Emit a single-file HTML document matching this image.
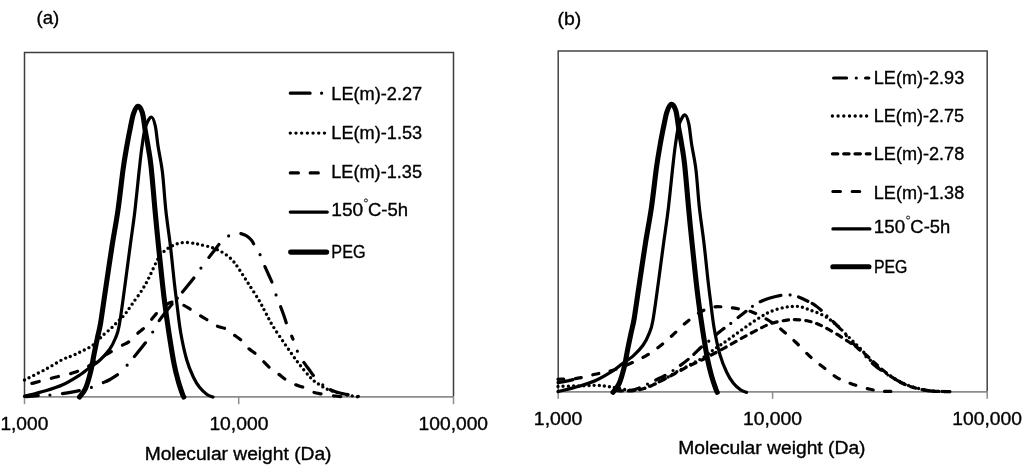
<!DOCTYPE html>
<html><head><meta charset="utf-8"><title>Molecular weight distributions</title>
<style>
html,body{margin:0;padding:0;background:#fff;}
body{width:1024px;height:468px;position:relative;overflow:hidden;font-family:"Liberation Sans",sans-serif;}
</style></head><body>
<svg width="1024" height="468" viewBox="0 0 1024 468" style="position:absolute;left:0;top:0"><line x1="24.5" y1="396.9" x2="453.5" y2="396.9" stroke="#8c8c8c" stroke-width="1.6"/>
<line x1="24.5" y1="396.9" x2="24.5" y2="404.2" stroke="#8c8c8c" stroke-width="1.5"/>
<line x1="238.7" y1="396.9" x2="238.7" y2="404.2" stroke="#8c8c8c" stroke-width="1.5"/>
<line x1="453.5" y1="396.9" x2="453.5" y2="404.2" stroke="#8c8c8c" stroke-width="1.5"/>
<path d="M24.5,396.5 V52.5 H453.5 V396.5" fill="none" stroke="#3c3c3c" stroke-width="1.5"/>
<path id="dot153" d="M24.5,380.0 C28.0,378.2 39.3,372.7 45.6,369.3 C51.9,365.9 57.8,361.9 62.3,359.6 C66.8,357.4 69.2,357.1 72.3,355.8 C75.4,354.5 78.1,353.1 80.9,351.7 C83.8,350.3 87.2,348.6 89.4,347.4 C91.6,346.2 92.4,345.7 94.0,344.4 C95.6,343.1 97.3,341.0 98.8,339.5 C100.3,338.0 101.0,337.1 102.9,335.3 C104.9,333.5 108.0,331.1 110.5,328.8 C113.0,326.6 115.2,324.2 117.6,321.8 C119.9,319.4 122.2,317.6 124.6,314.7 C127.0,311.8 129.0,308.6 132.0,304.3 C135.0,300.0 139.7,293.8 142.7,289.0 C145.7,284.2 147.7,280.1 150.0,275.5 C152.3,270.9 154.8,264.9 156.6,261.4 C158.4,257.9 159.4,256.5 161.0,254.5 C162.6,252.5 164.4,251.0 166.2,249.6 C168.0,248.2 169.9,247.1 172.0,246.0 C174.1,244.9 176.5,243.8 179.0,243.2 C181.5,242.6 184.3,242.4 187.0,242.5 C189.7,242.6 192.8,243.2 195.0,243.5 C197.2,243.8 197.6,244.0 200.0,244.6 C202.4,245.2 206.3,245.9 209.4,246.8 C212.5,247.7 215.5,248.8 218.4,250.2 C221.3,251.6 224.4,253.5 226.9,255.3 C229.4,257.2 231.5,259.3 233.3,261.3 C235.2,263.3 235.5,263.8 238.0,267.5 C240.5,271.2 244.8,278.1 248.3,283.5 C251.8,288.9 256.0,295.3 258.8,300.0 C261.6,304.7 262.7,307.2 265.0,311.5 C267.3,315.8 269.2,320.0 272.6,325.6 C276.0,331.2 281.2,338.7 285.5,344.9 C289.8,351.1 294.0,357.4 298.3,363.0 C302.6,368.6 307.8,374.8 311.4,378.5 C315.0,382.2 317.1,383.1 320.0,385.0 C322.9,386.9 324.3,388.1 328.5,389.7 C332.7,391.3 339.9,393.3 345.0,394.5 C350.1,395.7 356.7,396.6 359.0,397.0" fill="none" stroke="#000" stroke-width="3.4" stroke-linejoin="round" stroke-linecap="round" stroke-dasharray="0 5.15"/>
<path id="d135" d="M24.5,385.0 C26.2,384.6 29.9,383.9 35.0,382.6 C40.1,381.3 48.5,379.0 55.0,377.3 C61.5,375.6 68.5,374.4 74.0,372.6 C79.5,370.8 83.7,368.9 88.0,366.5 C92.3,364.1 96.7,360.2 100.0,358.0 C103.3,355.8 104.5,355.5 108.0,353.5 C111.5,351.5 117.5,348.0 121.0,346.0 C124.5,344.0 126.3,343.7 129.0,341.7 C131.7,339.7 134.5,336.3 137.0,334.0 C139.5,331.7 141.7,330.3 144.0,328.0 C146.3,325.7 148.8,322.5 151.0,320.0 C153.2,317.5 155.0,315.0 157.0,312.8 C159.0,310.6 160.5,308.8 163.0,307.0 C165.5,305.2 168.8,302.4 172.0,302.0 C175.2,301.6 178.8,303.2 182.0,304.5 C185.2,305.8 188.0,307.8 191.0,309.6 C194.0,311.4 197.2,313.7 200.0,315.5 C202.8,317.3 205.3,318.6 208.0,320.3 C210.7,322.0 213.1,324.2 216.0,325.6 C218.9,327.0 222.8,327.4 225.6,328.8 C228.4,330.2 230.3,332.2 233.0,334.2 C235.7,336.2 239.2,338.3 241.7,340.6 C244.2,342.9 245.5,345.7 248.0,348.0 C250.5,350.3 254.1,352.3 256.6,354.5 C259.1,356.7 260.7,358.7 263.0,361.0 C265.3,363.3 268.0,366.3 270.5,368.4 C273.0,370.5 275.3,371.8 278.0,373.7 C280.7,375.6 283.7,378.3 286.5,380.1 C289.3,381.9 292.1,383.2 295.0,384.5 C297.9,385.8 301.1,386.4 304.0,387.6 C306.9,388.8 309.4,390.8 312.4,391.9 C315.4,393.0 318.2,393.3 322.0,394.0 C325.8,394.7 331.2,395.5 335.0,396.0 C338.8,396.5 343.3,396.8 345.0,397.0" fill="none" stroke="#000" stroke-width="3.2" stroke-linejoin="round" stroke-linecap="round" stroke-dasharray="7.30 12.47 7.30 12.48 7.30 12.47 7.30 12.47 7.30 12.47 7.30 12.47 7.30 12.47 7.30 12.47 7.30 12.47 7.30 12.47 7.30 12.47 7.30 12.47 7.30 12.48 7.30 12.48 7.30 12.48 7.30 12.48 7.30 12.48 7.30 12.48 7.30 32.42" stroke-dashoffset="-7.85"/>
<path id="dd227" d="M24.5,396.8 C27.0,396.6 35.5,395.9 39.7,395.6 C43.9,395.3 46.4,395.3 49.9,395.0 C53.4,394.7 55.9,394.6 61.0,393.8 C66.1,393.0 75.6,391.4 80.7,390.3 C85.8,389.2 87.9,388.6 91.4,387.4 C94.9,386.2 98.7,384.5 101.8,383.2 C104.9,381.9 107.2,381.1 110.0,379.5 C112.8,377.9 115.9,376.2 118.7,373.8 C121.5,371.4 124.6,367.9 127.1,365.2 C129.6,362.5 130.3,361.6 133.5,357.7 C136.7,353.8 143.1,346.0 146.3,341.7 C149.5,337.4 150.8,335.2 152.7,332.0 C154.6,328.8 155.9,325.6 158.0,322.4 C160.1,319.2 162.7,316.0 165.0,313.0 C167.3,310.0 170.0,306.7 172.0,304.3 C174.0,301.9 175.3,300.4 177.0,298.5 C178.7,296.6 179.0,296.2 182.0,292.6 C185.0,289.0 191.8,280.7 194.9,276.6 C198.1,272.5 198.8,271.0 200.9,268.1 C203.0,265.2 205.5,261.9 207.7,259.0 C209.9,256.1 211.9,253.7 214.0,251.0 C216.1,248.3 217.9,245.5 220.3,243.0 C222.7,240.5 226.3,237.5 228.6,236.0 C230.9,234.5 232.2,234.2 234.0,233.8 C235.8,233.4 237.5,233.0 239.5,233.3 C241.5,233.6 244.2,234.6 246.2,235.7 C248.2,236.8 249.9,238.4 251.3,240.0 C252.7,241.6 253.1,242.9 254.5,245.3 C255.9,247.7 258.4,251.2 260.0,254.5 C261.6,257.8 262.8,261.6 264.2,264.9 C265.6,268.2 267.1,271.3 268.5,274.5 C269.9,277.7 271.4,280.7 272.7,284.1 C273.9,287.5 274.8,291.2 276.0,294.8 C277.2,298.4 278.9,302.2 280.2,305.5 C281.4,308.8 282.4,311.5 283.5,314.5 C284.6,317.5 285.3,320.2 286.5,323.5 C287.7,326.8 289.6,331.2 290.8,334.2 C292.1,337.2 292.9,338.9 294.0,341.7 C295.1,344.5 295.8,347.8 297.3,351.0 C298.8,354.2 300.9,357.9 302.8,360.9 C304.7,363.9 306.7,366.3 308.7,369.0 C310.7,371.7 312.4,374.4 314.6,376.9 C316.8,379.4 319.5,382.1 322.0,384.2 C324.5,386.3 327.0,388.0 329.5,389.3 C332.0,390.6 334.3,391.4 337.0,392.2 C339.7,393.0 341.8,393.5 345.6,394.2 C349.4,394.9 357.6,396.1 360.0,396.5" fill="none" stroke="#000" stroke-width="3.2" stroke-linejoin="round" stroke-linecap="round" stroke-dasharray="12.05 11.82 0.00 12.77 16.81 12.69 0.00 12.82 16.22 13.63 0.00 11.46 17.29 13.23 0.00 13.14 20.67 8.08 0.00 8.29 17.63 12.40 0.00 13.23 16.38 12.99 0.00 12.89 16.80 12.53 0.00 12.82 16.99 13.61 0.00 12.56 17.21 14.17 3.43 12.76 0.00 12.93 16.19 13.23 0.00 9.11 18.54 10.11 0.00 23.68" stroke-dashoffset="-1.60"/>
<path d="M24.5,396.3 C28.0,395.4 39.2,392.7 45.6,390.8 C52.0,388.9 57.0,387.4 62.7,384.8 C68.4,382.2 75.5,377.7 79.8,375.0 C84.1,372.3 85.0,371.0 88.4,368.5 C91.8,366.0 96.5,363.2 100.0,360.0 C103.5,356.8 106.9,353.2 109.5,349.5 C112.1,345.8 113.9,342.1 115.5,338.0 C117.1,333.9 117.7,333.8 119.3,325.0 C120.9,316.2 123.2,298.3 125.0,285.0 C126.8,271.7 128.6,257.5 130.3,245.0 C132.0,232.5 133.6,222.2 135.0,210.0 C136.4,197.8 137.8,182.6 139.0,172.0 C140.2,161.4 140.9,154.0 142.0,146.5 C143.1,139.0 143.9,131.9 145.5,127.0 C147.1,122.1 149.7,117.2 151.3,117.0 C152.9,116.8 154.2,121.1 155.3,126.0 C156.4,130.9 156.9,138.8 158.1,146.5 C159.3,154.2 161.1,161.4 162.4,172.0 C163.7,182.6 164.5,197.8 165.8,210.0 C167.1,222.2 168.8,232.5 170.3,245.0 C171.8,257.5 173.5,275.3 174.6,285.0 C175.7,294.7 175.8,295.2 176.8,303.0 C177.8,310.8 179.0,322.6 180.6,332.0 C182.2,341.4 184.5,352.0 186.6,359.5 C188.7,367.0 191.1,372.3 193.3,377.0 C195.5,381.7 197.4,384.7 199.7,387.6 C202.0,390.5 204.8,392.9 207.0,394.5 C209.2,396.1 212.0,396.6 213.0,397.0" fill="none" stroke="#000" stroke-width="3.2" stroke-linejoin="round" stroke-linecap="round"/>
<path d="M79.5,397.0 C80.5,395.6 83.6,392.8 85.5,388.5 C87.4,384.2 89.3,377.2 90.7,371.5 C92.1,365.8 92.9,360.2 94.0,354.5 C95.1,348.8 96.4,342.9 97.5,337.5 C98.6,332.1 99.3,330.8 100.8,322.0 C102.2,313.2 104.3,297.8 106.2,285.0 C108.1,272.2 110.2,257.5 112.2,245.0 C114.2,232.5 116.2,222.5 118.0,210.0 C119.8,197.5 121.6,180.3 123.0,170.0 C124.4,159.7 125.3,154.8 126.5,148.0 C127.7,141.2 128.8,135.2 130.0,129.5 C131.2,123.8 132.1,117.9 133.4,114.0 C134.7,110.1 136.4,106.5 137.9,106.2 C139.4,106.0 141.1,108.7 142.3,112.5 C143.5,116.3 144.1,123.4 145.0,129.0 C145.9,134.6 147.0,139.8 148.0,146.0 C149.0,152.2 149.8,155.3 151.0,166.0 C152.2,176.7 153.8,196.8 155.0,210.0 C156.2,223.2 157.1,232.5 158.4,245.0 C159.7,257.5 161.5,275.0 162.6,285.0 C163.7,295.0 164.0,297.2 165.0,305.0 C166.0,312.8 167.3,322.2 168.8,332.0 C170.3,341.8 172.5,355.8 174.1,364.0 C175.7,372.2 176.8,375.9 178.2,381.0 C179.6,386.1 181.7,391.8 182.6,394.5 C183.5,397.2 183.6,396.6 183.8,397.0" fill="none" stroke="#000" stroke-width="5.1" stroke-linejoin="round" stroke-linecap="round"/>
<line x1="558" y1="391.9" x2="987.2" y2="391.9" stroke="#8c8c8c" stroke-width="1.6"/>
<line x1="558.2" y1="391.9" x2="558.2" y2="398.8" stroke="#8c8c8c" stroke-width="1.5"/>
<line x1="772.6" y1="391.9" x2="772.6" y2="398.8" stroke="#8c8c8c" stroke-width="1.5"/>
<line x1="987.2" y1="391.9" x2="987.2" y2="398.8" stroke="#8c8c8c" stroke-width="1.5"/>
<path d="M558.2,391.5 V51 H987.2 V391.5" fill="none" stroke="#444" stroke-width="1.5"/>
<path id="dot275" d="M558.0,386.4 C560.8,386.3 569.7,386.1 575.0,386.0 C580.3,385.9 586.2,385.6 590.0,385.5 C593.8,385.4 595.4,385.2 597.6,385.3 C599.8,385.4 601.4,385.6 603.2,385.8 C605.0,386.0 606.8,386.4 608.5,386.6 C610.2,386.9 611.2,386.9 613.7,387.3 C616.2,387.8 620.7,388.8 623.7,389.3 C626.8,389.8 629.3,390.3 632.0,390.4 C634.7,390.4 637.3,390.2 640.0,389.6 C642.7,389.0 644.2,388.4 648.0,386.8 C651.8,385.2 658.5,382.3 663.0,380.0 C667.5,377.7 670.5,375.3 675.0,372.8 C679.5,370.3 685.3,367.4 690.0,364.8 C694.7,362.2 699.3,360.1 703.3,357.5 C707.3,354.9 710.5,351.8 713.8,349.5 C717.0,347.2 720.0,345.4 722.8,343.5 C725.6,341.6 728.2,339.7 730.8,337.8 C733.4,335.9 735.9,334.1 738.5,332.2 C741.1,330.3 743.8,328.4 746.3,326.6 C748.8,324.8 751.2,323.1 753.8,321.4 C756.4,319.7 759.4,317.7 761.8,316.2 C764.2,314.7 765.9,313.8 768.4,312.6 C770.9,311.5 774.1,310.2 777.0,309.3 C779.9,308.4 782.8,307.7 785.5,307.2 C788.2,306.7 790.6,306.5 793.0,306.4 C795.4,306.3 797.6,306.2 800.0,306.6 C802.4,307.0 804.6,308.1 807.1,309.0 C809.6,309.9 812.1,310.7 815.0,311.8 C817.9,312.9 821.5,314.4 824.2,315.9 C826.9,317.3 828.7,318.8 831.0,320.5 C833.3,322.2 834.8,323.3 837.9,326.2 C841.0,329.1 845.8,334.1 849.8,338.1 C853.8,342.1 858.1,346.1 861.8,350.1 C865.5,354.1 868.6,358.6 872.0,362.0 C875.4,365.4 878.7,367.9 882.0,370.3 C885.3,372.7 888.4,374.6 891.6,376.6 C894.8,378.6 897.8,380.6 901.0,382.2 C904.2,383.8 906.7,385.0 911.0,386.4 C915.3,387.8 922.2,389.5 926.7,390.3 C931.2,391.1 934.1,391.1 938.0,391.3 C941.9,391.5 948.0,391.6 950.0,391.6" fill="none" stroke="#000" stroke-width="3.4" stroke-linejoin="round" stroke-linecap="round" stroke-dasharray="0 5.15"/>
<path id="sd278" d="M617.0,390.6 C618.5,390.7 622.8,391.1 626.0,391.0 C629.2,390.9 632.5,390.9 636.0,390.3 C639.5,389.7 643.0,389.1 647.0,387.6 C651.0,386.1 655.3,383.9 660.0,381.5 C664.7,379.1 670.0,376.2 675.0,373.5 C680.0,370.8 685.3,367.9 690.0,365.5 C694.7,363.1 699.9,361.0 703.3,359.3 C706.7,357.6 706.6,357.5 710.3,355.5 C714.0,353.5 720.2,350.3 725.6,347.3 C731.0,344.3 737.0,340.8 742.7,337.7 C748.4,334.6 754.9,331.0 759.8,328.6 C764.6,326.2 767.5,324.6 771.8,323.2 C776.1,321.8 781.6,321.0 785.5,320.4 C789.4,319.8 791.4,319.5 795.0,319.6 C798.6,319.7 803.8,320.2 807.1,320.8 C810.4,321.4 812.1,322.0 815.0,323.0 C817.9,324.0 820.7,325.2 824.2,327.0 C827.7,328.8 832.2,331.4 836.2,333.8 C840.2,336.2 844.4,339.1 848.1,341.5 C851.8,343.9 854.8,345.5 858.4,348.4 C862.0,351.2 866.2,355.2 870.0,358.6 C873.8,362.0 877.4,365.4 881.0,368.5 C884.6,371.6 888.3,374.5 891.6,376.9 C894.9,379.2 897.8,381.0 901.0,382.6 C904.2,384.2 906.7,385.5 911.0,386.8 C915.3,388.1 922.2,389.7 926.7,390.5 C931.2,391.3 934.1,391.2 938.0,391.4 C941.9,391.6 948.0,391.6 950.0,391.6" fill="none" stroke="#000" stroke-width="3.2" stroke-linejoin="round" stroke-linecap="round" stroke-dasharray="5.4 6"/>
<path d="M558.0,382.6 C559.2,382.4 562.5,381.9 565.0,381.4 C567.5,380.9 571.7,379.9 573.0,379.6" fill="none" stroke="#000" stroke-width="3.2" stroke-linejoin="round" stroke-linecap="round"/>
<path id="dd293" d="M619.0,390.8 C621.0,390.7 627.3,390.9 631.0,390.3 C634.7,389.7 637.7,388.6 641.0,387.3 C644.3,386.0 647.0,384.3 651.0,382.3 C655.0,380.3 660.3,378.1 665.0,375.5 C669.7,372.9 674.8,369.3 679.0,366.4 C683.2,363.4 686.2,361.1 690.0,357.8 C693.8,354.5 698.8,349.3 702.0,346.5 C705.2,343.7 706.0,343.5 709.0,341.0 C712.0,338.5 716.3,334.5 720.0,331.5 C723.7,328.5 727.3,326.0 731.0,323.2 C734.7,320.4 738.4,317.3 742.0,314.5 C745.6,311.7 749.4,308.5 752.4,306.4 C755.4,304.3 757.1,303.2 760.0,301.8 C762.9,300.4 766.3,299.1 770.0,298.0 C773.7,296.9 778.7,295.7 782.0,295.2 C785.3,294.7 787.5,294.7 790.0,294.9 C792.5,295.1 793.8,295.1 797.0,296.3 C800.2,297.5 805.8,300.2 809.0,301.8 C812.2,303.4 813.8,304.5 816.0,306.0 C818.2,307.5 820.2,309.3 822.0,311.0 C823.8,312.7 825.3,314.4 827.0,316.0 C828.7,317.6 829.7,318.2 832.0,320.5 C834.3,322.8 837.7,326.0 841.0,329.6 C844.3,333.2 848.5,338.2 852.0,342.0 C855.5,345.8 858.7,349.0 862.0,352.5 C865.3,356.0 868.7,359.9 872.0,363.0 C875.3,366.1 878.7,368.6 882.0,371.0 C885.3,373.4 888.4,375.3 891.6,377.2 C894.8,379.1 897.8,380.9 901.0,382.5 C904.2,384.1 906.7,385.3 911.0,386.6 C915.3,387.9 922.2,389.5 926.7,390.3 C931.2,391.1 934.5,391.1 938.0,391.3 C941.5,391.5 946.3,391.6 948.0,391.6" fill="none" stroke="#000" stroke-width="3.2" stroke-linejoin="round" stroke-linecap="round" stroke-dasharray="0.00 9.20 10.30 9.20 0.00 9.20 10.30 9.20 0.00 9.00 10.02 7.64 10.21 9.61 0.00 9.24 10.57 8.45 0.00 9.35 10.00 8.21 0.00 9.11 21.48 9.38 0.00 9.03 9.75 4.93 11.43 8.13 0.00 8.26 10.21 9.20 0.00 9.20 10.30 9.20 0.00 9.20 10.30 9.20 0.00 9.20 10.30 9.20 0.00 9.20 10.30 9.20 0.00 27.31" stroke-dashoffset="-1.14"/>
<path id="d138" d="M558.0,379.3 C559.3,379.2 562.7,379.2 566.0,379.0 C569.3,378.8 573.2,379.0 578.0,378.2 C582.8,377.4 589.3,375.6 595.0,374.3 C600.7,373.0 606.5,372.1 612.0,370.5 C617.5,368.9 622.5,366.9 628.0,364.5 C633.5,362.1 639.8,359.3 645.0,356.3 C650.2,353.3 655.0,350.0 659.5,346.5 C664.0,343.0 668.0,339.3 672.3,335.5 C676.5,331.7 680.5,327.3 685.0,323.5 C689.5,319.7 695.0,315.2 699.5,312.5 C704.0,309.8 708.2,308.3 712.0,307.4 C715.8,306.4 718.2,306.7 722.0,306.8 C725.8,306.9 729.6,307.3 734.6,308.2 C739.6,309.1 746.3,309.9 752.0,312.0 C757.7,314.1 763.6,317.3 768.8,320.5 C774.0,323.7 778.8,327.5 783.3,331.2 C787.8,334.9 791.4,338.1 796.0,342.5 C800.6,346.9 806.4,353.2 811.0,357.4 C815.6,361.6 819.3,364.2 823.7,367.6 C828.1,371.0 832.6,375.0 837.4,377.8 C842.2,380.6 847.2,382.3 852.5,384.2 C857.8,386.1 864.4,387.9 869.0,389.0 C873.6,390.1 876.1,390.6 880.0,391.0 C883.9,391.4 890.4,391.4 892.5,391.5" fill="none" stroke="#000" stroke-width="3.2" stroke-linejoin="round" stroke-linecap="round" stroke-dasharray="6.10 11.67 6.10 11.67 6.10 11.67 6.10 11.67 6.10 11.67 6.10 11.67 6.10 11.67 6.10 11.67 6.10 11.67 6.10 11.67 6.10 11.67 6.10 11.67 6.10 11.67 6.10 11.67 6.10 11.67 6.10 11.67 6.10 11.67 6.10 11.67 6.10 11.67 6.10 11.67 6.10 11.67 6.10 21.61" stroke-dashoffset="0.33"/>
<g transform="translate(533.5,-1.01) scale(1,0.9907)">
<path d="M24.5,396.3 C28.0,395.4 39.2,392.7 45.6,390.8 C52.0,388.9 57.0,387.4 62.7,384.8 C68.4,382.2 75.5,377.7 79.8,375.0 C84.1,372.3 85.0,371.0 88.4,368.5 C91.8,366.0 96.5,363.2 100.0,360.0 C103.5,356.8 106.9,353.2 109.5,349.5 C112.1,345.8 113.9,342.1 115.5,338.0 C117.1,333.9 117.7,333.8 119.3,325.0 C120.9,316.2 123.2,298.3 125.0,285.0 C126.8,271.7 128.6,257.5 130.3,245.0 C132.0,232.5 133.6,222.2 135.0,210.0 C136.4,197.8 137.8,182.6 139.0,172.0 C140.2,161.4 140.9,154.0 142.0,146.5 C143.1,139.0 143.9,131.9 145.5,127.0 C147.1,122.1 149.7,117.2 151.3,117.0 C152.9,116.8 154.2,121.1 155.3,126.0 C156.4,130.9 156.9,138.8 158.1,146.5 C159.3,154.2 161.1,161.4 162.4,172.0 C163.7,182.6 164.5,197.8 165.8,210.0 C167.1,222.2 168.8,232.5 170.3,245.0 C171.8,257.5 173.5,275.3 174.6,285.0 C175.7,294.7 175.8,295.2 176.8,303.0 C177.8,310.8 179.0,322.6 180.6,332.0 C182.2,341.4 184.5,352.0 186.6,359.5 C188.7,367.0 191.1,372.3 193.3,377.0 C195.5,381.7 197.4,384.7 199.7,387.6 C202.0,390.5 204.8,392.9 207.0,394.5 C209.2,396.1 212.0,396.6 213.0,397.0" fill="none" stroke="#000" stroke-width="3.2" stroke-linejoin="round" stroke-linecap="round"/>
<path d="M79.5,397.0 C80.5,395.6 83.6,392.8 85.5,388.5 C87.4,384.2 89.3,377.2 90.7,371.5 C92.1,365.8 92.9,360.2 94.0,354.5 C95.1,348.8 96.4,342.9 97.5,337.5 C98.6,332.1 99.3,330.8 100.8,322.0 C102.2,313.2 104.3,297.8 106.2,285.0 C108.1,272.2 110.2,257.5 112.2,245.0 C114.2,232.5 116.2,222.5 118.0,210.0 C119.8,197.5 121.6,180.3 123.0,170.0 C124.4,159.7 125.3,154.8 126.5,148.0 C127.7,141.2 128.8,135.2 130.0,129.5 C131.2,123.8 132.1,117.9 133.4,114.0 C134.7,110.1 136.4,106.5 137.9,106.2 C139.4,106.0 141.1,108.7 142.3,112.5 C143.5,116.3 144.1,123.4 145.0,129.0 C145.9,134.6 147.0,139.8 148.0,146.0 C149.0,152.2 149.8,155.3 151.0,166.0 C152.2,176.7 153.8,196.8 155.0,210.0 C156.2,223.2 157.1,232.5 158.4,245.0 C159.7,257.5 161.5,275.0 162.6,285.0 C163.7,295.0 164.0,297.2 165.0,305.0 C166.0,312.8 167.3,322.2 168.8,332.0 C170.3,341.8 172.5,355.8 174.1,364.0 C175.7,372.2 176.8,375.9 178.2,381.0 C179.6,386.1 181.7,391.8 182.6,394.5 C183.5,397.2 183.6,396.6 183.8,397.0" fill="none" stroke="#000" stroke-width="5.1" stroke-linejoin="round" stroke-linecap="round"/>
</g>
<line x1="290.3" y1="93.2" x2="322" y2="93.2" stroke="#000" stroke-width="3.2" stroke-linecap="round" stroke-dasharray="19.8 11.5 0 20"/>
<line x1="290.3" y1="133.1" x2="324.5" y2="133.1" stroke="#000" stroke-width="3.4" stroke-linecap="round" stroke-dasharray="0 5.69"/>
<line x1="290.3" y1="172.9" x2="318.6" y2="172.9" stroke="#000" stroke-width="3.2" stroke-linecap="round" stroke-dasharray="8.1 11.8"/>
<line x1="290.3" y1="212.1" x2="327.3" y2="212.1" stroke="#000" stroke-width="3.2" stroke-linecap="round"/>
<line x1="290.65" y1="252.1" x2="326.65" y2="252.1" stroke="#000" stroke-width="5.1" stroke-linecap="round"/>
<line x1="833.6" y1="78" x2="868.8" y2="78" stroke="#000" stroke-width="3.2" stroke-linecap="round" stroke-dasharray="13 9.7 0 9.3 20"/>
<line x1="832.4" y1="116" x2="866.7" y2="116" stroke="#000" stroke-width="3.4" stroke-linecap="round" stroke-dasharray="0 5.7"/>
<line x1="832.4" y1="153.8" x2="870.1" y2="153.8" stroke="#000" stroke-width="3.2" stroke-linecap="round" stroke-dasharray="5.4 5.9"/>
<line x1="832.9" y1="191.5" x2="860.7" y2="191.5" stroke="#000" stroke-width="3.2" stroke-linecap="round" stroke-dasharray="7.5 11.8"/>
<line x1="832.9" y1="228.9" x2="869.9" y2="228.9" stroke="#000" stroke-width="3.2" stroke-linecap="round"/>
<line x1="832.85" y1="266.7" x2="868.95" y2="266.7" stroke="#000" stroke-width="5.1" stroke-linecap="round"/></svg>
<svg width="1024" height="468" viewBox="0 0 1024 468" style="position:absolute;left:0;top:0;will-change:transform" font-family="Liberation Sans, sans-serif" fill="#000" stroke="#000" stroke-width="0.35" stroke-linejoin="round"><text x="36.56" y="24.30" font-size="19" textLength="22.78" lengthAdjust="spacingAndGlyphs">(a)</text>
<text x="557.51" y="24.60" font-size="19" textLength="23.78" lengthAdjust="spacingAndGlyphs">(b)</text>
<text x="0.41" y="430.00" font-size="18" textLength="47.88" lengthAdjust="spacingAndGlyphs">1,000</text>
<text x="209.40" y="430.00" font-size="18" textLength="59.01" lengthAdjust="spacingAndGlyphs">10,000</text>
<text x="418.61" y="430.00" font-size="18" textLength="69.40" lengthAdjust="spacingAndGlyphs">100,000</text>
<text x="533.89" y="424.70" font-size="18" textLength="48.51" lengthAdjust="spacingAndGlyphs">1,000</text>
<text x="743.00" y="425.00" font-size="18" textLength="59.12" lengthAdjust="spacingAndGlyphs">10,000</text>
<text x="952.30" y="424.60" font-size="18" textLength="69.61" lengthAdjust="spacingAndGlyphs">100,000</text>
<text x="144.70" y="459.60" font-size="18" textLength="186.83" lengthAdjust="spacingAndGlyphs">Molecular weight (Da)</text>
<text x="678.19" y="454.20" font-size="18" textLength="187.34" lengthAdjust="spacingAndGlyphs">Molecular weight (Da)</text>
<text x="331.28" y="99.60" font-size="18" textLength="90.95" lengthAdjust="spacingAndGlyphs">LE(m)-2.27</text>
<text x="331.29" y="139.40" font-size="18" textLength="90.85" lengthAdjust="spacingAndGlyphs">LE(m)-1.53</text>
<text x="331.29" y="178.30" font-size="18" textLength="90.74" lengthAdjust="spacingAndGlyphs">LE(m)-1.35</text>
<text x="331.31" y="215.90" font-size="18" textLength="31.97" lengthAdjust="spacingAndGlyphs">150</text>
<text x="367.97" y="215.90" font-size="18" textLength="40.17" lengthAdjust="spacingAndGlyphs">C-5h</text>
<circle cx="365.9" cy="200.4" r="1.55" fill="none" stroke="#000" stroke-width="0.9"/>
<text x="331.35" y="258.30" font-size="18" textLength="34.23" lengthAdjust="spacingAndGlyphs">PEG</text>
<text x="873.79" y="84.00" font-size="18" textLength="90.44" lengthAdjust="spacingAndGlyphs">LE(m)-2.93</text>
<text x="873.79" y="121.50" font-size="18" textLength="90.33" lengthAdjust="spacingAndGlyphs">LE(m)-2.75</text>
<text x="873.79" y="159.80" font-size="18" textLength="90.44" lengthAdjust="spacingAndGlyphs">LE(m)-2.78</text>
<text x="873.79" y="198.50" font-size="18" textLength="90.44" lengthAdjust="spacingAndGlyphs">LE(m)-1.38</text>
<text x="873.84" y="232.80" font-size="18" textLength="31.22" lengthAdjust="spacingAndGlyphs">150</text>
<text x="910.38" y="232.80" font-size="18" textLength="39.86" lengthAdjust="spacingAndGlyphs">C-5h</text>
<circle cx="908.1" cy="217.6" r="1.55" fill="none" stroke="#000" stroke-width="0.9"/>
<text x="873.98" y="273.20" font-size="18" textLength="33.48" lengthAdjust="spacingAndGlyphs">PEG</text></svg>
</body></html>
